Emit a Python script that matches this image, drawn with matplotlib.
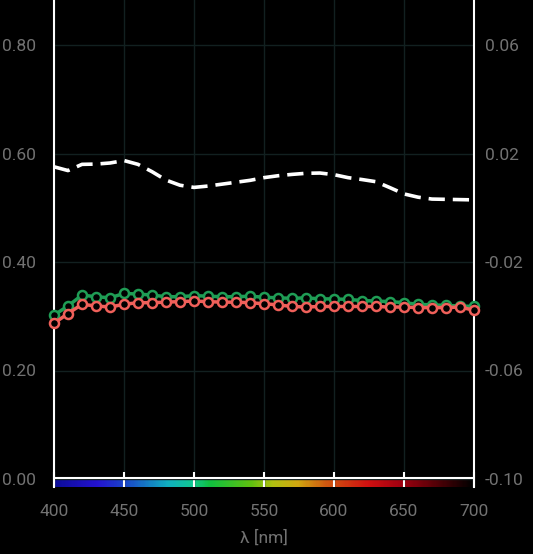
import numpy as np
import matplotlib.pyplot as plt
from matplotlib.colors import LinearSegmentedColormap

plt.rcParams['font.family'] = ['Roboto', 'DejaVu Sans']

wl = np.arange(400, 701, 10)

red = [0.287, 0.305, 0.322, 0.319, 0.317, 0.322, 0.325, 0.325, 0.326, 0.327,
       0.328, 0.327, 0.326, 0.326, 0.325, 0.323, 0.321, 0.318, 0.317, 0.318,
       0.318, 0.318, 0.318, 0.318, 0.317, 0.317, 0.316, 0.316, 0.316, 0.317,
       0.311]
green = [0.302, 0.319, 0.339, 0.336, 0.334, 0.342, 0.341, 0.339, 0.336, 0.336,
         0.338, 0.337, 0.336, 0.336, 0.337, 0.335, 0.334, 0.333, 0.334, 0.332,
         0.332, 0.331, 0.329, 0.328, 0.327, 0.325, 0.322, 0.321, 0.320, 0.319,
         0.318]
# dashed curve, right axis
diff = [0.0151, 0.0137, 0.0160, 0.0161, 0.0165, 0.0174, 0.0160, 0.0133, 0.0102, 0.0083,
        0.0075, 0.0080, 0.0087, 0.0094, 0.0101, 0.0111, 0.0118, 0.0123, 0.0127, 0.0128,
        0.0122, 0.0111, 0.0104, 0.0096, 0.0074, 0.0051, 0.0039, 0.0032, 0.0031, 0.0030,
        0.0029]

left_ticks = [0.0, 0.2, 0.4, 0.6, 0.8]
right_ticks = [-0.10, -0.06, -0.02, 0.02, 0.06]
x_ticks = [400, 450, 500, 550, 600, 650, 700]

spec = LinearSegmentedColormap.from_list('spec', [
    (0.00, '#0c0c98'), (0.10, '#2412d0'), (0.17, '#1a48c8'), (0.27, '#10b0c0'),
    (0.33, '#10c890'), (0.37, '#10c040'), (0.47, '#60c010'), (0.52, '#b0c010'),
    (0.58, '#d0a810'), (0.65, '#d05810'), (0.75, '#d01010'), (0.83, '#a00010'),
    (0.90, '#600008'), (1.00, '#000000')])

fig = plt.figure(figsize=(5.33, 5.54), dpi=100, facecolor='black')
ax = fig.add_axes([54/533, 1-487/554, 420/533, 487/554])
ax.set_facecolor('black')

y0 = -8/542.5
ax.set_xlim(400, 700)
ax.set_ylim(y0, 479/542.5)

ax.imshow(np.linspace(0, 1, 300)[None, :], cmap=spec, aspect='auto',
          extent=(400, 700, y0, 0.002), zorder=1)
ax.axhline(0.002, color='white', lw=1.5, zorder=2)

ax.set_xticks(x_ticks)
ax.set_yticks(left_ticks)
ax.set_yticklabels([f'{v:.2f}' for v in left_ticks])
ax.grid(True, color='#122020', lw=1, zorder=0)
ax.tick_params(axis='x', direction='in', length=11, width=1.5, color='white',
               labelcolor='#727272', labelsize=12.5, pad=12)
ax.tick_params(axis='y', length=0, labelcolor='#727272', labelsize=12.5, pad=13)
for s in ['top', 'bottom']:
    ax.spines[s].set_visible(False)
for s in ['left', 'right']:
    ax.spines[s].set_color('white')
    ax.spines[s].set_linewidth(1.5)
ax.set_xlabel('λ [nm]', color='#727272', fontsize=12.5, labelpad=8)

ax.plot(wl, green, color='#1f9d55', lw=2.5, marker='o', ms=6.5, mfc='black',
        mew=1.8, zorder=4, clip_on=False)
ax.plot(wl, red, color='#f0605a', lw=2.5, marker='o', ms=6.5, mfc='black',
        mew=1.8, zorder=5, clip_on=False)

ax2 = ax.twinx()
ax2.set_ylim(-0.10 - 8*0.04/108.5, -0.10 + 479*0.04/108.5)
ax2.set_yticks(right_ticks)
ax2.set_yticklabels([f'{v:.2f}' for v in right_ticks])
ax2.tick_params(axis='y', length=0, labelcolor='#727272', labelsize=12.5, pad=8)
for s in ax2.spines.values():
    s.set_visible(False)
ax2.plot(wl, diff, color='white', lw=2.6, dashes=(4.5, 2.2), zorder=6)

fig.savefig('out.png', dpi=100, facecolor='black')
